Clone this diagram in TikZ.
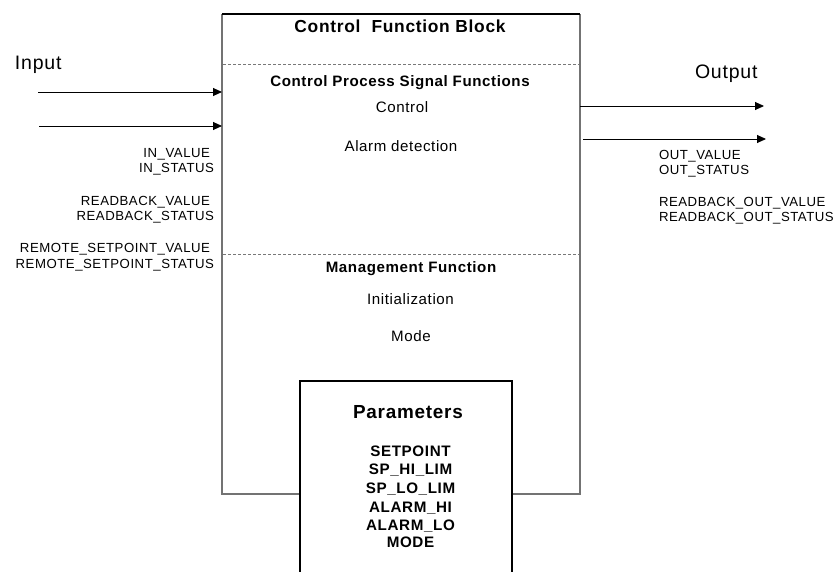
\documentclass[tikz,border=0pt]{standalone}
\usepackage{fontspec}
\setmainfont{Liberation Sans}[LetterSpace=4]
\usetikzlibrary{arrows.meta}
\definecolor{boxgray}{RGB}{115,115,115}
\definecolor{dashgray}{RGB}{120,120,120}
\tikzset{
  txt/.style={inner sep=0pt, outer sep=0pt, font=\fontsize{15.1}{17}\selectfont},
  btxt/.style={txt, font=\fontsize{15.1}{17}\selectfont\bfseries},
  ptxt/.style={txt, font=\fontsize{15.2}{17}\selectfont\bfseries},
  lbl/.style={inner sep=0pt, outer sep=0pt, font=\fontsize{13.2}{15}\selectfont},
  big/.style={inner sep=0pt, outer sep=0pt, font=\fontsize{19.5}{21}\selectfont},
  sig/.style={line width=0.9pt, -{Triangle[length=9pt,width=8pt]}},
  sep/.style={dashgray, line width=0.8pt, dash pattern=on 3pt off 2pt},
}
\begin{document}
\begin{tikzpicture}[x=1pt,y=-1pt]
\useasboundingbox (0,0) rectangle (839,572);
% main box
\draw[boxgray, line width=1.4pt] (222,14) -- (222,494) -- (580,494) -- (580,14);
\draw[black, line width=1.1pt] (222,14) -- (580,14);
% separators
\draw[sep] (223,64) -- (579,64);
\draw[sep] (223,254) -- (579,254);
% parameters box
\fill[white] (300,381) rectangle (512,572);
\draw[black, line width=1.1pt] (300,572) -- (300,381) -- (512,381) -- (512,572);

% texts inside main box
\node[txt, anchor=base, font=\fontsize{17.4}{19}\selectfont\bfseries] (title) at (400,33) {Control\ \ Function Block};
\node[btxt, anchor=base] (cpsf) at (400,87) {Control Process Signal Functions};
\node[txt, anchor=base] (ctrl) at (402,113) {Control};
\node[txt, anchor=base] (alarm) at (401,152) {Alarm detection};
\node[btxt, anchor=base] (mgmt) at (411,273) {Management Function};
\node[txt, anchor=base] (init) at (410.5,305) {Initialization};
\node[txt, anchor=base] (mode) at (411,342) {Mode};
% parameters
\node[inner sep=0pt, anchor=base, font=\fontsize{18.9}{21}\selectfont\bfseries] (params) at (408,418) {Parameters};
\node[ptxt, anchor=base] (p1) at (410.5,456) {SETPOINT};
\node[ptxt, anchor=base] (p2) at (410.5,474) {SP\_HI\_LIM};
\node[ptxt, anchor=base] (p3) at (410.5,493) {SP\_LO\_LIM};
\node[ptxt, anchor=base] (p4) at (410.5,512) {ALARM\_HI};
\node[ptxt, anchor=base] (p5) at (410.5,530) {ALARM\_LO};
\node[ptxt, anchor=base] (p6) at (410.5,547) {MODE};

% input side
\node[big, anchor=base west] (input) at (15,70) {Input};
\coordinate (i1s) at (38,92);
\coordinate (i1e) at (222,92);
\coordinate (i2s) at (39,126);
\coordinate (i2e) at (222,126);
\draw[sig] (i1s) -- (i1e);
\draw[sig] (i2s) -- (i2e);
\node[lbl, anchor=base east] (inv) at (210,158) {IN\_VALUE};
\node[lbl, anchor=base east] (ins) at (214,173) {IN\_STATUS};
\node[lbl, anchor=base east] (rbv) at (210,206) {READBACK\_VALUE};
\node[lbl, anchor=base east] (rbs) at (214,221) {READBACK\_STATUS};
\node[lbl, anchor=base east] (rsv) at (210,253) {REMOTE\_SETPOINT\_VALUE};
\node[lbl, anchor=base east] (rss) at (214,269) {REMOTE\_SETPOINT\_STATUS};

% output side
\node[big, anchor=base west] (output) at (695,79) {Output};
\coordinate (o1s) at (580,106);
\coordinate (o1e) at (764,106);
\coordinate (o2s) at (583,139);
\coordinate (o2e) at (766,139);
\draw[sig] (o1s) -- (o1e);
\draw[sig] (o2s) -- (o2e);
\node[lbl, anchor=base west] (outv) at (659,160) {OUT\_VALUE};
\node[lbl, anchor=base west] (outs) at (659,175) {OUT\_STATUS};
\node[lbl, anchor=base west] (rov) at (659,207) {READBACK\_OUT\_VALUE};
\node[lbl, anchor=base west] (ros) at (659,222) {READBACK\_OUT\_STATUS};
\end{tikzpicture}
\end{document}
